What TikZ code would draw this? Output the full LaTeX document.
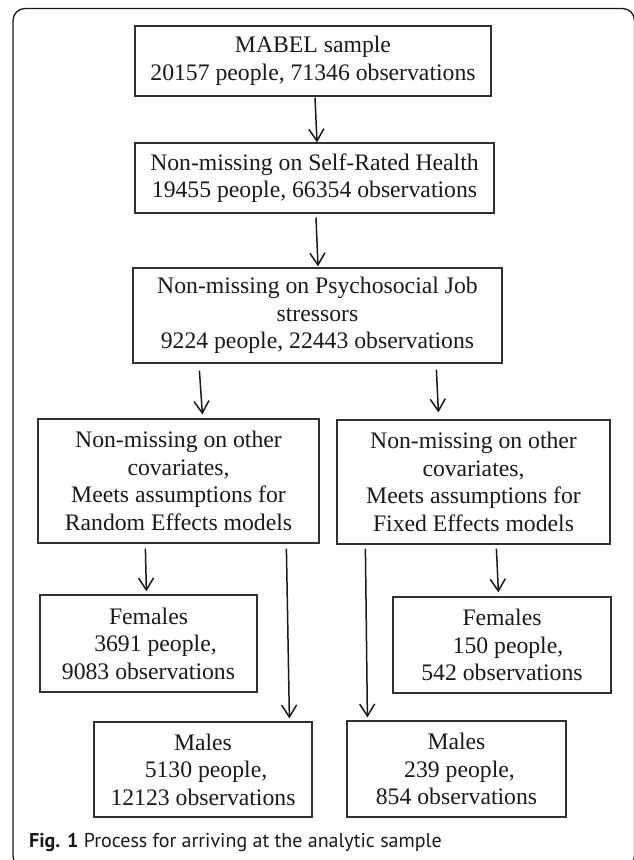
\documentclass[tikz,border=0pt]{standalone}
\usepackage{fontspec}
\setmainfont{Liberation Serif}
\newfontfamily\capfont{PT Sans}
\usetikzlibrary{arrows.meta,calc}
\definecolor{ink}{HTML}{1A1A1A}
\tikzset{
  box/.style={draw=ink!90, line width=1.2pt, inner sep=0pt, align=center,
    text=ink, font=\fontsize{23.7}{27.5}\selectfont},
  arr/.style={draw=ink, line width=1.5pt,
    -{Straight Barb[length=12pt,width=15pt,line width=1.5pt]}},
  frame/.style={draw=ink, line width=1.3pt, rounded corners=12pt}
}
\begin{document}
\begin{tikzpicture}[x=1pt,y=-1pt]
\useasboundingbox (0,0) rectangle (634,860);
\clip (0,0) rectangle (634,860);
\draw[frame] (13,8.5) rectangle (634.5,868);

\node[box, minimum width=356, minimum height=70] (b1) at (313,61)
  {MABEL sample\\20157 people, 71346 observations};
\node[box, minimum width=359, minimum height=70] (b2) at (314.5,178)
  {Non-missing on Self-Rated Health\\19455 people, 66354 observations};
\node[box, minimum width=369, minimum height=95] (b3) at (317.5,315.5)
  {Non-missing on Psychosocial Job\\stressors\\9224 people, 22443 observations};
\node[box, minimum width=281, minimum height=124] (b4) at (178.5,481)
  {Non-missing on other\\covariates,\\Meets assumptions for\\Random Effects models};
\node[box, minimum width=273, minimum height=124] (b5) at (473.5,482)
  {Non-missing on other\\covariates,\\Meets assumptions for\\Fixed Effects models};
\node[box, minimum width=217, minimum height=97] (fL) at (148.5,643.5)
  {Females\\\hspace*{14pt}3691 people,\\9083 observations};
\node[box, minimum width=218, minimum height=96] (fR) at (502,645)
  {Females\\\hspace*{12pt}150 people,\\542 observations};
\node[box, minimum width=218, minimum height=95] (mL) at (203,769.5)
  {Males\\\hspace*{6pt}5130 people,\\12123 observations};
\node[box, minimum width=219, minimum height=96] (mR) at (456.5,769)
  {Males\\\hspace*{6pt}239 people,\\854 observations};

\draw[arr] ($(b1.south)+(2,1)$) -- ($(b2.north)+(2.5,0)$);
\draw[arr] ($(b2.south)+(1.5,4)$) -- ($(b3.north)+(0.5,-1)$);
\draw[arr] ($(b3.south west)+(67,7)$) -- ($(b4.north west)+(165,-4)$);
\draw[arr] ($(b3.south west)+(304,6)$) -- ($(b5.north west)+(102,-7)$);
\draw[arr] ($(b4.south west)+(108,5)$) -- ($(fL.north west)+(107,-3)$);
\draw[arr] ($(b4.south west)+(249,5)$) -- ($(mL.north west)+(196,-3)$);
\draw[arr] ($(b5.south west)+(29,4)$) -- ($(mR.north west)+(21,-3)$);
\draw[arr] ($(b5.south west)+(160,4)$) -- ($(fR.north west)+(106,-4)$);

\node[anchor=base west, inner sep=0pt, text=ink, font=\capfont\fontsize{20}{24}\selectfont] (cap) at (29,847)
  {\textbf{Fig. 1} Process for arriving at the analytic sample};
\end{tikzpicture}
\end{document}
